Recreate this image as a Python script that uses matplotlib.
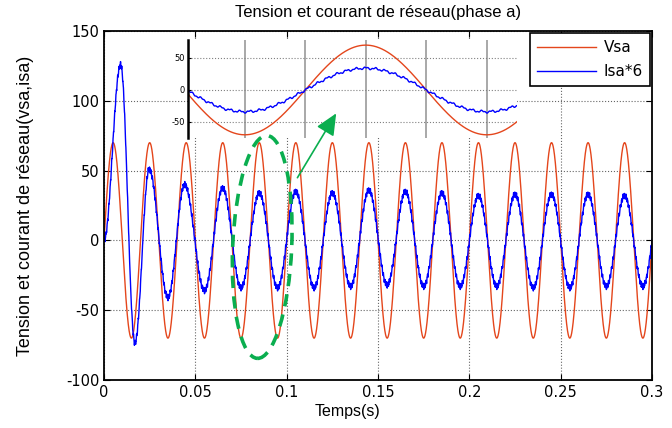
import numpy as np
import matplotlib
matplotlib.use("Agg")
import matplotlib.pyplot as plt
from matplotlib.patches import Ellipse, FancyArrowPatch
from matplotlib.transforms import ScaledTranslation

plt.rcParams["axes.unicode_minus"] = False

# --- values ---
f_grid = 50.0           # Hz
vsa_amp = 70.0          # peak of Vsa
# extrema of Isa*6 (time in s, value), read peak by peak
isa_ext_t = [0.0, 0.0091, 0.0169, 0.0247, 0.035, 0.0441, 0.055,
             0.065, 0.075, 0.085, 0.095, 0.105, 0.115, 0.125, 0.135,
             0.145, 0.155, 0.165, 0.175, 0.185, 0.195, 0.205, 0.215,
             0.225, 0.235, 0.245, 0.255, 0.265, 0.275, 0.285, 0.295, 0.305]
isa_ext_v = [0.0, 126.0, -73.5, 51.0, -41.0, 40.0, -36.0,
             37.5, -34.0, 34.0, -34.0, 35.0, -34.0, 34.0, -33.0,
             36.0, -32.0, 35.0, -33.0, 34.0, -33.0, 32.0, -33.0,
             33.0, -34.0, 33.0, -34.0, 33.0, -33.0, 32.0, -33.0, 33.0]
ripple_amp = 1.4        # switching ripple on the current

xticks = [0, 0.05, 0.1, 0.15, 0.2, 0.25, 0.3]
xtick_labels = ["0", "0.05", "0.1", "0.15", "0.2", "0.25", "0.3"]
yticks = [-100, -50, 0, 50, 100, 150]
inset_yticks = [-50, 0, 50]
inset_grid_x = [0.075, 0.08, 0.085, 0.09, 0.095]

# --- signals ---
t = np.arange(0, 0.3 + 1e-9, 2e-5)
vsa = vsa_amp * np.sin(2 * np.pi * f_grid * t)

isa = np.zeros_like(t)
for k in range(len(isa_ext_t) - 1):
    t0, t1 = isa_ext_t[k], isa_ext_t[k + 1]
    a, b = isa_ext_v[k], isa_ext_v[k + 1]
    m = (t >= t0) & (t <= t1)
    isa[m] = (a + b) / 2 + (a - b) / 2 * np.cos(np.pi * (t[m] - t0) / (t1 - t0))
isa += ripple_amp * (np.sin(2 * np.pi * 1250 * t) + 0.6 * np.sin(2 * np.pi * 3100 * t + 1.0))

red = "#e4461c"
blue = "#0000ff"
green = "#0aae4f"

fig = plt.figure(figsize=(6.72, 4.28), dpi=100)
ax = fig.add_axes([104 / 672, 1 - 380 / 428, 548 / 672, 349 / 428])

ax.plot(t, vsa, color=red, lw=1.0, label="Vsa")
ax.plot(t, isa, color=blue, lw=1.0, label="Isa*6")
ax.set_xlim(0, 0.3)
ax.set_ylim(-100, 150)
ax.set_xticks(xticks)
ax.set_xticklabels(xtick_labels)
ax.set_yticks(yticks)
ax.grid(True, linestyle=":", color="0.4", lw=0.8)
ax.tick_params(direction="in", top=True, right=True, length=4, labelsize=10.5)
for s in ax.spines.values():
    s.set_linewidth(1.3)
ax.set_title("Tension et courant de réseau(phase a)", fontsize=12,
             family="Liberation Sans", pad=10)
ax.set_xlabel("Temps(s)", fontsize=11.5, family="Liberation Sans")
ax.xaxis.set_label_coords(0.445, -0.07)
ax.set_ylabel("Tension et courant de réseau(vsa,isa)", fontsize=13,
              family="Liberation Sans")
ax.yaxis.set_label_coords(-0.128, 0.5)

# zoom inset
axi = fig.add_axes([188 / 672, 1 - 138 / 428, 329 / 672, 98 / 428])
axi.plot(t, vsa, color=red, lw=1.0)
axi.plot(t, isa, color=blue, lw=1.0)
axi.set_xlim(0.0703, 0.0975)
axi.set_ylim(-75, 78)
axi.set_yticks(inset_yticks)
axi.set_xticks(inset_grid_x)
axi.tick_params(axis="x", length=0, labelbottom=False)
axi.tick_params(axis="y", direction="in", length=2, labelsize=6, pad=2)
axi.grid(True, axis="x", color="0.6", lw=1.2)
axi.grid(True, axis="y", color="0.5", lw=0.8, linestyle=":")
for side in ["top", "right", "bottom"]:
    axi.spines[side].set_visible(False)
axi.spines["left"].set_linewidth(1.8)

# legend
h, l = ax.get_legend_handles_labels()
leg = fig.legend(h, l, loc="upper right", bbox_to_anchor=(650 / 672, 1 - 33 / 428),
                 fontsize=11, handlelength=3.9, handletextpad=0.5,
                 labelspacing=0.6, borderpad=0.45, fancybox=False,
                 framealpha=1, edgecolor="black", borderaxespad=0)
leg.get_frame().set_linewidth(1.2)

# green annotation: dashed ellipse and arrow
ell_tr = fig.dpi_scale_trans + ScaledTranslation(0.0866, -4.7, ax.transData)
ell = Ellipse((0, 0), 0.59, 2.23, angle=-2.5, transform=ell_tr, fill=False,
              edgecolor=green, lw=2.6, linestyle=(0, (3.4, 2.3)))
fig.add_artist(ell)
arr = FancyArrowPatch((0.1051, 43.2), (0.1279, 92.7), transform=ax.transData,
                      arrowstyle="-|>,head_length=1.1,head_width=0.5",
                      mutation_scale=12, color=green, lw=1.2)
fig.add_artist(arr)

fig.savefig("out.png", dpi=100)
